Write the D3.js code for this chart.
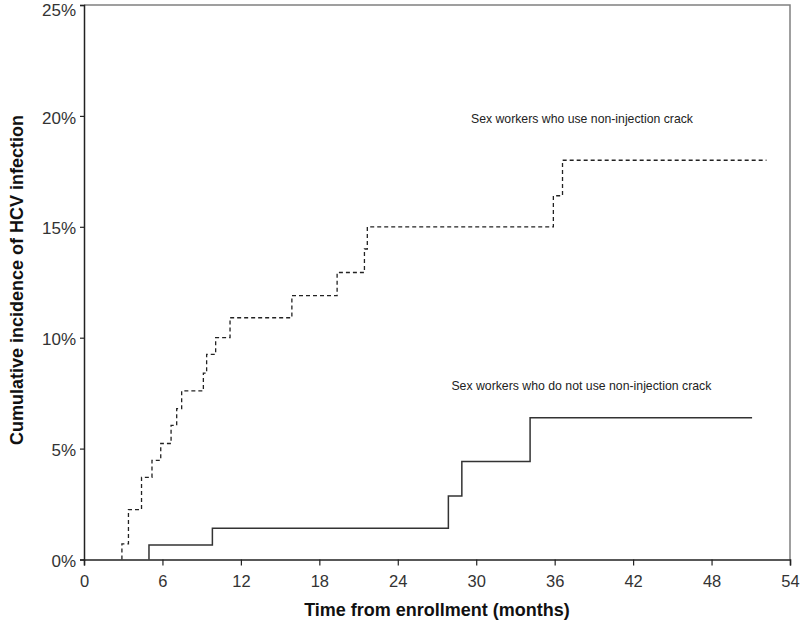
<!DOCTYPE html>
<html><head><meta charset="utf-8">
<script src="https://cdn.jsdelivr.net/npm/d3@7"></script>
<style>body{margin:0;background:#fff}svg{display:block}</style>
</head><body>
<svg id="c" width="800" height="624"></svg>
<script>
// Data (months, cumulative incidence %)
const crackTimes = [2.9, 3.4, 4.4, 5.2, 5.87, 6.66, 7.09, 7.47, 9.13, 9.38, 10.07, 11.17, 15.9, 19.36, 21.45, 21.67, 35.9, 36.6];
const crackValues = [0.7, 2.25, 3.7, 4.47, 5.23, 6.05, 6.8, 7.6, 8.4, 9.25, 10.0, 10.9, 11.9, 12.94, 14.0, 15.0, 16.4, 18.0];
const crackEnd = 52.2;
const noCrackTimes = [4.97, 9.82, 27.87, 28.9, 34.12];
const noCrackValues = [0.65, 1.41, 2.86, 4.42, 6.39];
const noCrackEnd = 51.1;
const xTicks = [0, 6, 12, 18, 24, 30, 36, 42, 48, 54];
const yTicks = [0, 5, 10, 15, 20, 25];
const labels = ["Sex workers who use non-injection crack", "Sex workers who do not use non-injection crack"];

const svg = d3.select("#c");
const L = 84, R = 790, T = 5, B = 559.5;
const x = d3.scaleLinear().domain([0, 54]).range([L, R]);
const y = d3.scaleLinear().domain([0, 25]).range([B, T]);
const font = "'Liberation Sans', Arial, sans-serif";

// frame (top & right)
svg.append("path").attr("d", `M${L},${T}H${R}V${B}`).attr("fill","none").attr("stroke","#808080").attr("stroke-width",1.5);

// axes
const xa = svg.append("g").attr("transform",`translate(0,${B})`)
  .call(d3.axisBottom(x).tickValues(xTicks).tickSize(6).tickPadding(10).tickFormat(d3.format("d")));
const ya = svg.append("g").attr("transform",`translate(${L},0)`)
  .call(d3.axisLeft(y).tickValues(yTicks).tickSize(4).tickPadding(4).tickFormat(d => d + "%"));
[xa, ya].forEach(a => {
  a.select(".domain").attr("stroke","#222").attr("stroke-width",1.5);
  a.selectAll(".tick line").attr("stroke","#222").attr("stroke-width",1.2);
  a.selectAll("text").attr("fill","#333").style("font-family",font);
});
xa.selectAll("text").style("font-size","16.5px");
ya.selectAll("text").style("font-size","17px").attr("dy", d => d === 25 ? "0.6em" : "0.42em");

function steps(times, values, end) {
  const pts = [[times[0], 0]];
  times.forEach((t, i) => pts.push([t, values[i]]));
  pts.push([end, values[values.length - 1]]);
  return pts;
}
const line = d3.line().x(d => x(d[0])).y(d => y(d[1])).curve(d3.curveStepAfter);

svg.append("path").datum(steps(crackTimes, crackValues, crackEnd))
  .attr("d", line).attr("fill","none").attr("stroke","#222").attr("stroke-width",1.3)
  .attr("stroke-dasharray","4,3");
svg.append("path").datum(steps(noCrackTimes, noCrackValues, noCrackEnd))
  .attr("d", line).attr("fill","none").attr("stroke","#333").attr("stroke-width",1.5);

// curve labels
svg.append("text").attr("x", x(29.6)).attr("y", y(19.66))
  .attr("font-family",font).attr("font-size",13.5).attr("fill","#222").text(labels[0])
  .attr("textLength",222).attr("lengthAdjust","spacingAndGlyphs");
svg.append("text").attr("x", x(28.1)).attr("y", y(7.65))
  .attr("font-family",font).attr("font-size",13).attr("fill","#222").text(labels[1])
  .attr("textLength",260).attr("lengthAdjust","spacingAndGlyphs");

// axis titles
svg.append("text").attr("x", 437).attr("y", 616).attr("text-anchor","middle")
  .attr("font-family",font).attr("font-weight","bold").attr("font-size",18).attr("fill","#111")
  .text("Time from enrollment (months)");
svg.append("text").attr("transform","translate(23,280) rotate(-90)").attr("text-anchor","middle")
  .attr("font-family",font).attr("font-weight","bold").attr("font-size",18).attr("fill","#111")
  .text("Cumulative incidence of HCV infection");
</script>
</body></html>
